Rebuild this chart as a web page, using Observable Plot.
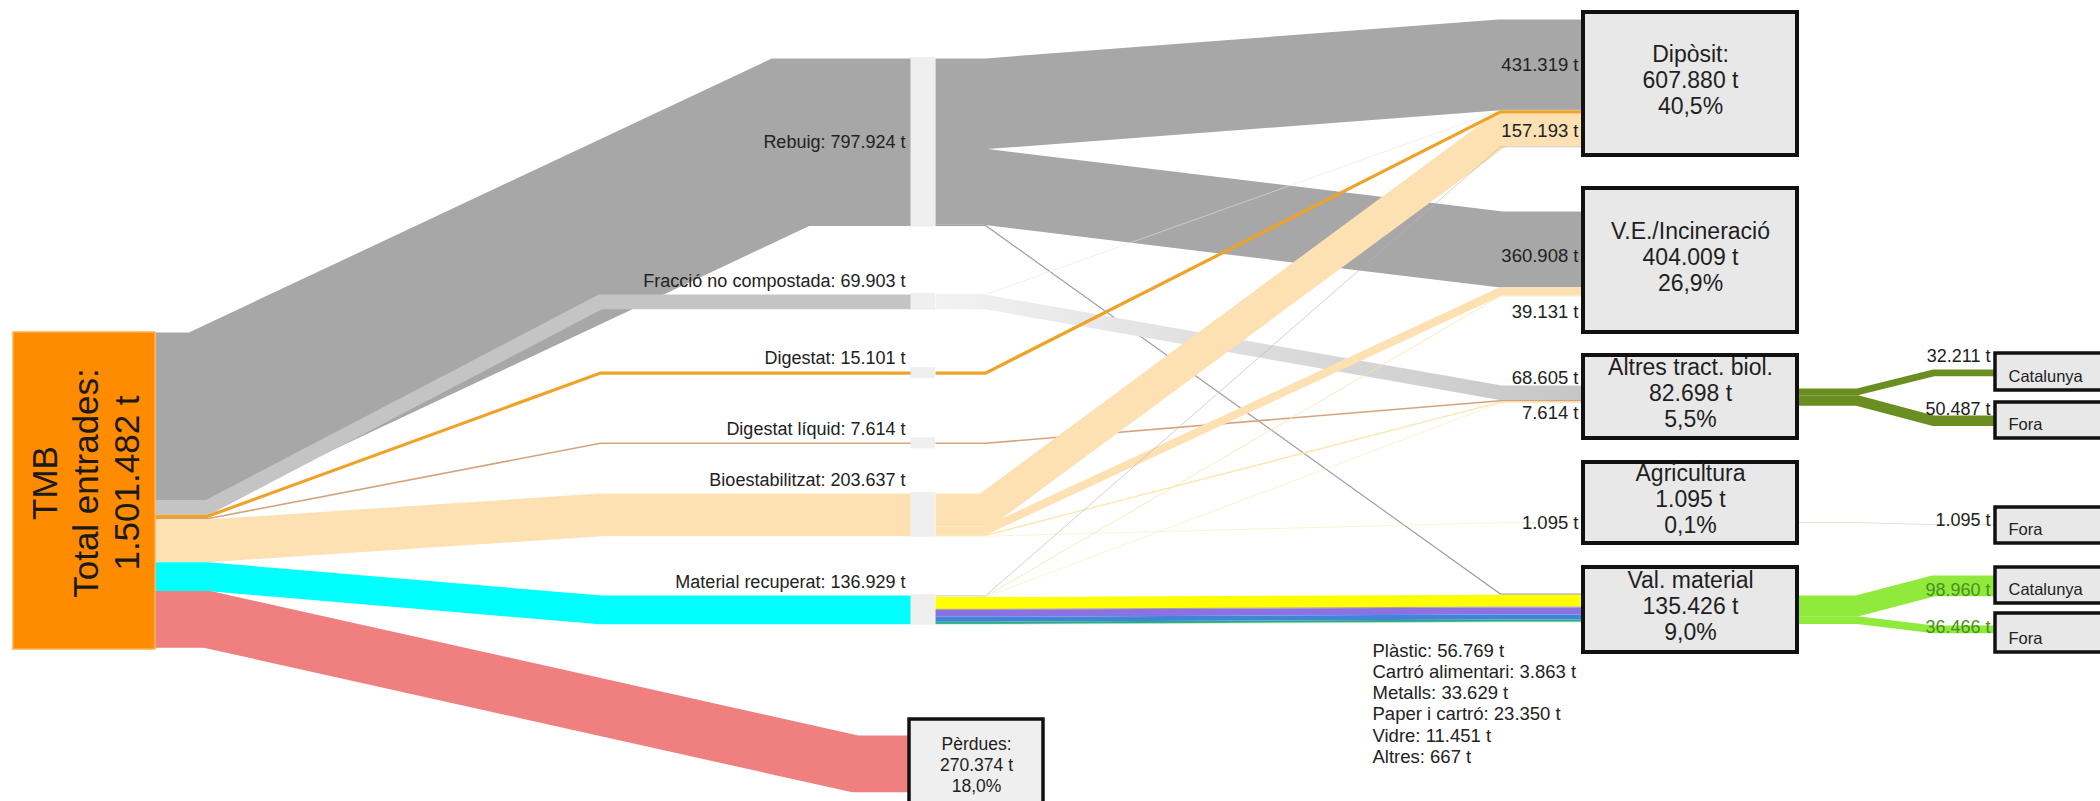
<!DOCTYPE html>
<html><head><meta charset="utf-8">
<script src="https://cdn.jsdelivr.net/npm/d3@7"></script>
<script src="https://cdn.jsdelivr.net/npm/@observablehq/plot@0.6"></script>
<style>html,body{margin:0;padding:0;background:#fff;overflow:hidden}</style>
</head><body><div id="chart"></div>
<script>
// ---------------- DATA ----------------
const tmbLines = ["TMB", "Total entrades:"];
const tmbOutputs = ["Rebuig", "Fracció no compostada", "Digestat", "Digestat líquid", "Bioestabilitzat", "Material recuperat", "Pèrdues"];
const tmbOutputValues = [797924, 69903, 15101, 7614, 203637, 136929, 270374];

const destinations = ["Dipòsit", "V.E./Incineració", "Altres tract. biol.", "Agricultura", "Val. material"];
const destinationLabels = ["Dipòsit:", "V.E./Incineració", "Altres tract. biol.", "Agricultura", "Val. material"];
const destinationTotals = [607880, 404009, 82698, 1095, 135426];

const flowSources = ["Rebuig", "Rebuig", "Rebuig", "Fracció no compostada", "Fracció no compostada", "Digestat", "Digestat líquid", "Bioestabilitzat", "Bioestabilitzat", "Bioestabilitzat", "Bioestabilitzat", "Material recuperat", "Material recuperat", "Material recuperat"];
const flowTargets = ["Dipòsit", "V.E./Incineració", "Val. material", "Dipòsit", "Altres tract. biol.", "Dipòsit", "Altres tract. biol.", "Dipòsit", "V.E./Incineració", "Altres tract. biol.", "Agricultura", "Dipòsit", "V.E./Incineració", "Altres tract. biol."];
const flowValues = [431319, 360908, 5697, 1298, 68605, 15101, 7614, 157193, 39131, 6218, 1095, 2969, 3970, 261];

const materials = ["Plàstic", "Cartró alimentari", "Metalls", "Paper i cartró", "Vidre", "Altres"];
const materialValues = [56769, 3863, 33629, 23350, 11451, 667];

const finalSources = ["Altres tract. biol.", "Altres tract. biol.", "Agricultura", "Val. material", "Val. material"];
const finalTargets = ["Catalunya", "Fora", "Fora", "Catalunya", "Fora"];
const finalValues = [32211, 50487, 1095, 98960, 36466];

// ---------------- LAYOUT / STYLE ----------------
const W = 2100, H = 801;
const k = 0.00021; // px per tonne
const L = {
  tmb: {x1: 13, x2: 155, y1: 332, y2: 649},
  mid: {x1: 910, x2: 935},
  midTop: {"Rebuig": 58, "Fracció no compostada": 294, "Digestat": 371, "Digestat líquid": 442, "Bioestabilitzat": 493, "Material recuperat": 595},
  leftBend1: 207, leftBend2: {"Rebuig": 790, "Pèrdues": 855}, leftBend2Default: 600,
  perdues: {x1: 909, x2: 1043, y1: 719, y2: 824, flowTop: 735},
  dest: {x1: 1583, x2: 1797},
  destBox: {"Dipòsit": [12, 155], "V.E./Incineració": [188, 332], "Altres tract. biol.": [355, 438], "Agricultura": [462, 543], "Val. material": [567, 652]},
  destInTop: {"Dipòsit": 19, "V.E./Incineració": 211, "Altres tract. biol.": 385, "Agricultura": 522, "Val. material": 593},
  destOutTop: {"Altres tract. biol.": 388, "Agricultura": 522, "Val. material": 595},
  midBend1: 985, midBend2: 1500,
  fin: {x1: 1995, x2: 2120},
  finBox: [[353, 390], [402, 438], [507, 543], [567, 603], [613, 652]],
  finInTop: [369, 415, 524, 575, 625],
  finBend1: 1857, finBend2: 1933,
  midLabelX: 905, flowLabelX: 1578, finLabelX: 1990,
  listX: 1372, listY: 641
};
const flowLabelDy = {
  "Rebuig→Dipòsit": 0, "Bioestabilitzat→Dipòsit": 1,
  "Rebuig→V.E./Incineració": 7, "Bioestabilitzat→V.E./Incineració": 21,
  "Fracció no compostada→Altres tract. biol.": -15, "Digestat líquid→Altres tract. biol.": 12,
  "Bioestabilitzat→Agricultura": 0
};
const finLabelDy = [-17, -12, -4, 4, -2];
const srcColor = {
  "Rebuig": "#A7A7A7", "Fracció no compostada": "#C4C4C4", "Digestat": "#EFA228",
  "Digestat líquid": "#D5A47E", "Bioestabilitzat": "#FDE1B3", "Material recuperat": "#00FFFF", "Pèrdues": "#F08080"
};
const midColor = {
  "Rebuig→Dipòsit": "#A7A7A7", "Rebuig→V.E./Incineració": "#A7A7A7", "Rebuig→Val. material": "#A0A0A0",
  "Fracció no compostada→Dipòsit": "#E4E4E4", "Fracció no compostada→Altres tract. biol.": "url(#fracGrad)",
  "Digestat→Dipòsit": "#EFA228", "Digestat líquid→Altres tract. biol.": "#D5A47E",
  "Bioestabilitzat→Dipòsit": "#FDE1B3", "Bioestabilitzat→V.E./Incineració": "#FDE1B3",
  "Bioestabilitzat→Altres tract. biol.": "#F9E7B0", "Bioestabilitzat→Agricultura": "#F6EDB8",
  "Material recuperat→Dipòsit": "#B4B4B4", "Material recuperat→V.E./Incineració": "#F2EBA6",
  "Material recuperat→Altres tract. biol.": "#F2EBB8"
};
const materialColors = ["#FFFF00", "#A08C7C", "#8A72E2", "#3F86D8", "#2AA88E", "#A4E6A4"];
const finColor = {"Altres tract. biol.": "#6B8E23", "Agricultura": "#6B8E23", "Val. material": "#90EA3C"};
const finTextColor = {"Altres tract. biol.": "#222", "Agricultura": "#222", "Val. material": "#4A8F22"};
const layerOf = {"Rebuig": 0, "Fracció no compostada": 1, "Digestat líquid": 2, "Bioestabilitzat": 3, "Digestat": 4, "Material recuperat": 5};

// ---------------- COMPUTE ----------------
const fmtN = d3.formatLocale({decimal: ",", thousands: ".", grouping: [3], currency: ["", ""]}).format(",d");
const total = d3.sum(tmbOutputValues);
const pct = v => (v / total * 100).toFixed(1).replace(".", ",") + "%";

const links = [];
function addLink(id, xs, ys, xt, yt, b1, b2, w, color, layer) {
  links.push({id, pts: [[xs, ys], [b1, ys], [b2, yt], [xt, yt]], w, color, layer});
}

// TMB -> middle
let c = L.tmb.y1;
const midRects = [], midLabels = [];
tmbOutputs.forEach((name, i) => {
  const v = tmbOutputValues[i], h = v * k;
  const ys = c + h / 2; c += h;
  const b2 = L.leftBend2[name] ?? L.leftBend2Default;
  if (name === "Pèrdues") {
    addLink("L" + i, L.tmb.x2, ys, L.perdues.x1, L.perdues.flowTop + h / 2, L.leftBend1, b2, h, srcColor[name], -1);
  } else {
    const top = L.midTop[name];
    addLink("L" + i, L.tmb.x2, ys, L.mid.x1, top + h / 2, L.leftBend1, b2, h, srcColor[name], -1);
    const hh = Math.max(h + 2, 11);
    midRects.push({x1: L.mid.x1, x2: L.mid.x2, y1: top + h / 2 - hh / 2, y2: top + h / 2 + hh / 2});
    midLabels.push({x: L.midLabelX, y: name === "Rebuig" ? top + h / 2 : top - 13, text: `${name}: ${fmtN(v)} t`});
  }
});

// middle -> destinations
const srcCur = Object.assign({}, L.midTop);
const tgtCur = Object.assign({}, L.destInTop);
const flowLabels = [];
const allMid = flowSources.map((s, i) => ({s, t: flowTargets[i], v: flowValues[i], color: midColor[s + "→" + flowTargets[i]], key: s + "→" + flowTargets[i]}))
  .concat(materials.map((m, i) => ({s: "Material recuperat", t: "Val. material", v: materialValues[i], color: materialColors[i], key: "mat" + i})));
allMid.forEach((f, i) => {
  const h = f.v * k;
  const ys = srcCur[f.s] + h / 2; srcCur[f.s] += h;
  const yt = tgtCur[f.t] + h / 2; tgtCur[f.t] += h;
  addLink("M" + i, L.mid.x2, ys, L.dest.x1, yt, L.midBend1, L.midBend2, Math.max(h, 0.6), f.color, layerOf[f.s] + (f.key.startsWith("mat") ? 1 : 0));
  if (flowLabelDy[f.key] !== undefined) flowLabels.push({x: L.flowLabelX, y: yt + flowLabelDy[f.key], text: `${fmtN(f.v)} t`});
});

// destinations -> final
const outCur = Object.assign({}, L.destOutTop);
const finLabels = [], finBoxes = [], finTexts = [];
finalSources.forEach((s, i) => {
  const v = finalValues[i], h = v * k;
  const ys = outCur[s] + h / 2; outCur[s] += h;
  const yt = L.finInTop[i] + h / 2;
  addLink("F" + i, L.dest.x2, ys, L.fin.x1, yt, L.finBend1, L.finBend2, h, finColor[s], 10);
  finLabels.push({x: L.finLabelX, y: yt + finLabelDy[i], text: `${fmtN(v)} t`, color: finTextColor[s]});
  const [y1, y2] = L.finBox[i];
  finBoxes.push({x1: L.fin.x1, x2: L.fin.x2, y1, y2});
  finTexts.push({x: L.fin.x1 + 13, y: y2 - 14, text: finalTargets[i]});
});

links.sort((a, b) => a.layer - b.layer);
const pts = links.flatMap(l => l.pts.map(([x, y]) => ({id: l.id, x, y, w: l.w, color: l.color})));

const destBoxes = destinations.map((d, i) => ({x1: L.dest.x1, x2: L.dest.x2, y1: L.destBox[d][0], y2: L.destBox[d][1],
  text: `${destinationLabels[i]}\n${fmtN(destinationTotals[i])} t\n${pct(destinationTotals[i])}`}));

const perduesValue = tmbOutputValues[tmbOutputs.indexOf("Pèrdues")];
const listText = materials.map((m, i) => `${m}: ${fmtN(materialValues[i])} t`).join("\n");

const font = "'Liberation Sans', Arial, sans-serif";
const svg = Plot.plot({
  width: W, height: H, margin: 0,
  x: {domain: [0, W], range: [0, W], axis: null},
  y: {domain: [0, H], range: [0, H], axis: null},
  color: {type: "identity"},
  style: {fontFamily: font, background: "#fff", overflow: "hidden"},
  marks: [
    Plot.rect(midRects, {x1: "x1", x2: "x2", y1: "y1", y2: "y2", fill: "#EFEFEF"}),
    Plot.line(pts, {x: "x", y: "y", z: "id", stroke: "color", strokeWidth: "w", strokeLinejoin: "miter", strokeMiterlimit: 8, strokeLinecap: "butt"}),
    Plot.rect([L.tmb], {x1: "x1", x2: "x2", y1: "y1", y2: "y2", fill: "#FF8C00", stroke: "#FFB04A", strokeWidth: 1.5}),
    Plot.text([L.tmb], {x: d => (d.x1 + d.x2) / 2, y: d => (d.y1 + d.y2) / 2 - 8, text: () => `${tmbLines[0]}\n${tmbLines[1]}\n${fmtN(total)} t`,
      rotate: -90, fontSize: 35, lineHeight: 1.17, fill: "#1a1a1a"}),
    Plot.rect(destBoxes, {x1: "x1", x2: "x2", y1: "y1", y2: "y2", fill: "#E8E8E8", stroke: "#111", strokeWidth: 4}),
    Plot.text(destBoxes, {x: d => (d.x1 + d.x2) / 2, y: d => (d.y1 + d.y2) / 2 - 4, text: "text", fontSize: 23, lineHeight: 1.13, fill: "#1f1f1f"}),
    Plot.rect([L.perdues], {x1: "x1", x2: "x2", y1: "y1", y2: "y2", fill: "#EFEFEF", stroke: "#111", strokeWidth: 3.5}),
    Plot.text([L.perdues], {x: d => (d.x1 + d.x2) / 2, y: d => d.y1 + 45, text: () => `Pèrdues:\n${fmtN(perduesValue)} t\n${pct(perduesValue)}`,
      fontSize: 17.5, lineHeight: 1.18, fill: "#222"}),
    Plot.rect(finBoxes, {x1: "x1", x2: "x2", y1: "y1", y2: "y2", fill: "#E8E8E8", stroke: "#111", strokeWidth: 3.5}),
    Plot.text(finTexts, {x: "x", y: "y", text: "text", textAnchor: "start", fontSize: 16.5, fill: "#222"}),
    Plot.text(finLabels, {x: "x", y: "y", text: "text", textAnchor: "end", fontSize: 18, fill: "color"}),
    Plot.text(midLabels, {x: "x", y: "y", text: "text", textAnchor: "end", fontSize: 18, fill: "#222"}),
    Plot.text(flowLabels, {x: "x", y: "y", text: "text", textAnchor: "end", fontSize: 18.5, fill: "#222"}),
    Plot.text([listText], {x: () => L.listX, y: () => L.listY, text: d => d, textAnchor: "start", lineAnchor: "top", fontSize: 18.5, lineHeight: 1.15, fill: "#222"})
  ]
});
const defs = d3.select(svg).insert("defs", ":first-child");
const g = defs.append("linearGradient").attr("id", "fracGrad").attr("x1", "0").attr("x2", "1").attr("y1", "0").attr("y2", "0");
g.append("stop").attr("offset", "0%").attr("stop-color", "#F2F2F2");
g.append("stop").attr("offset", "100%").attr("stop-color", "#C6C6C6");
document.getElementById("chart").appendChild(svg);
</script>
</body></html>
